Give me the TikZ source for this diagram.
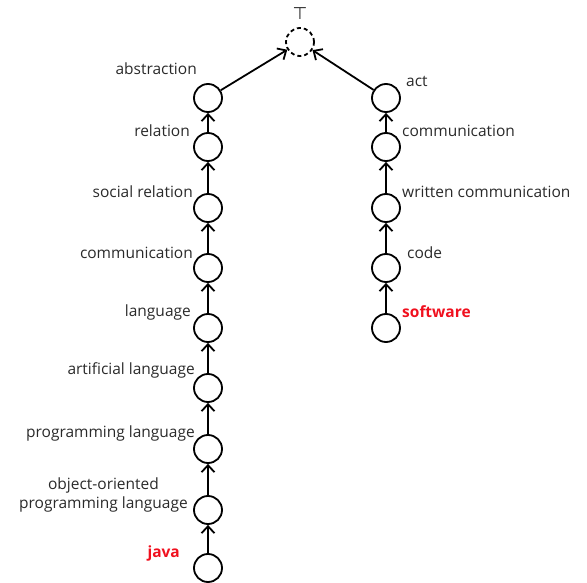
\documentclass[tikz,border=0pt]{standalone}
\usepackage{fontspec}
\setmainfont{Open Sans}
\newfontfamily\symfont{DejaVu Sans}
\usetikzlibrary{arrows.meta}
\definecolor{txt}{HTML}{2A2A2A}
\definecolor{hl}{HTML}{F0101E}
\begin{document}
\begin{tikzpicture}[x=1pt,y=-1pt,
  >={Straight Barb[length=7pt,width=13pt,line width=1.8pt]},
  concept/.style={circle,draw,line width=1.8pt,minimum size=28pt,inner sep=0pt},
  top/.style={concept,dash pattern=on 4pt off 3pt},
  lbl/.style={text=txt,font=\fontsize{15.5}{19}\selectfont,inner sep=0pt},
  hlbl/.style={lbl,text=hl,font=\fontsize{15.5}{19}\selectfont\bfseries},
  link/.style={line width=1.8pt,->}]
\useasboundingbox (0,0) rectangle (587,583);
% top
\node[top] (T) at (300,42) {};
\node[text=txt,font=\symfont\fontsize{17}{19}\selectfont,inner sep=0pt] (Tl) at (300,14) {⊤};
% left chain
\node[concept] (a1) at (208,98) {};
\node[concept] (a2) at (208,147) {};
\node[concept] (a3) at (208,208) {};
\node[concept] (a4) at (208,268) {};
\node[concept] (a5) at (208,328) {};
\node[concept] (a6) at (208,388) {};
\node[concept] (a7) at (208,449) {};
\node[concept] (a8) at (208,510) {};
\node[concept] (a9) at (208,568) {};
% right chain
\node[concept] (b1) at (386,98) {};
\node[concept] (b2) at (386,147) {};
\node[concept] (b3) at (386,208) {};
\node[concept] (b4) at (386,268) {};
\node[concept] (b5) at (386,328) {};
% labels left
\node[lbl,anchor=east] (la1) at (197,69) {abstraction};
\node[lbl,anchor=east] (la2) at (190,131) {relation};
\node[lbl,anchor=east] (la3) at (193,192) {social relation};
\node[lbl,anchor=east] (la4) at (193,253) {communication};
\node[lbl,anchor=east] (la5) at (191,312) {language};
\node[lbl,anchor=east] (la6) at (195,370) {artificial language};
\node[lbl,anchor=east] (la7) at (195,433) {programming language};
\node[lbl,anchor=east,align=center] (la8) at (188,495) {object-oriented\\programming language};
\node[hlbl,anchor=east] (la9) at (180,553) {java};
% labels right
\node[lbl,anchor=west] (lb1) at (406,81) {act};
\node[lbl,anchor=west] (lb2) at (402,131) {communication};
\node[lbl,anchor=west] (lb3) at (402,192) {written communication};
\node[lbl,anchor=west] (lb4) at (407,253) {code};
\node[hlbl,anchor=west] (lb5) at (402,312) {software};
% links
\draw[link] (a9) -- (a8);
\draw[link] (a8) -- (a7);
\draw[link] (a7) -- (a6);
\draw[link] (a6) -- (a5);
\draw[link] (a5) -- (a4);
\draw[link] (a4) -- (a3);
\draw[link] (a3) -- (a2);
\draw[link] (a2) -- (a1);
\draw[link] (a1) -- (T);
\draw[link] (b5) -- (b4);
\draw[link] (b4) -- (b3);
\draw[link] (b3) -- (b2);
\draw[link] (b2) -- (b1);
\draw[link] (b1) -- (T);
\end{tikzpicture}
\end{document}
